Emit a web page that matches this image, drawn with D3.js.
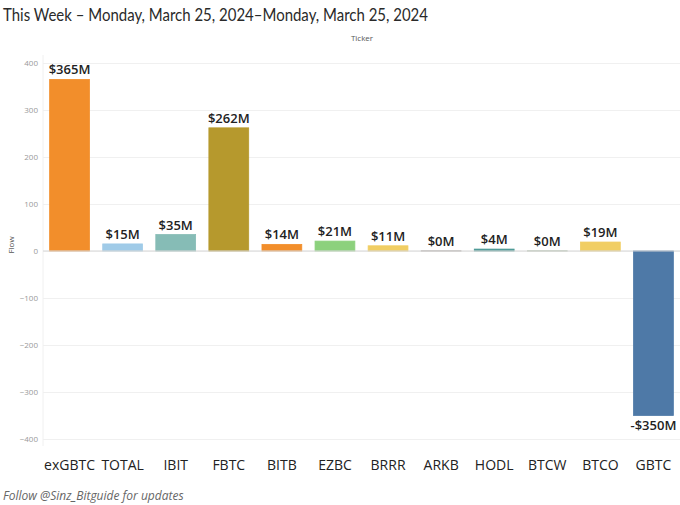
<!DOCTYPE html>
<html><head><meta charset="utf-8">
<script src="https://cdn.jsdelivr.net/npm/d3@7"></script>
<style>body{margin:0;background:#fff;}svg{display:block;}</style>
</head><body>
<svg id="c" width="680" height="505"></svg>
<script>
const tickers = ["exGBTC","TOTAL","IBIT","FBTC","BITB","EZBC","BRRR","ARKB","HODL","BTCW","BTCO","GBTC"];
const flows = [365, 15, 35, 262, 14, 21, 11, 0.3, 4, 0.3, 19, -350];
const valueLabels = ["$365M","$15M","$35M","$262M","$14M","$21M","$11M","$0M","$4M","$0M","$19M","-$350M"];
const colors = ["#f28e2b","#a0cbe8","#86bcb6","#b6992d","#f28e2b","#8cd17d","#f1ce63","#9d9794","#499894","#a2b59a","#f1ce63","#4e79a7"];
const yTicks = [-400,-300,-200,-100,0,100,200,300,400];

const svg = d3.select("#c");
const x = d3.scaleBand().domain(tickers).range([43, 680]).paddingInner(0.25).paddingOuter(0.125);
const y = d3.scaleLinear().domain([-415, 417]).range([446, 55]);

// title
const title = svg.append("text").attr("x",3).attr("y",21).attr("font-family","Lato, sans-serif")
  .attr("font-size",17).attr("fill","#2a2a2a").text("This Week \u2013 Monday, March 25, 2024\u2013Monday, March 25, 2024");
title.attr("textLength",425).attr("lengthAdjust","spacingAndGlyphs");
svg.append("text").attr("x",362).attr("y",41).attr("text-anchor","middle").attr("font-family","Open Sans, sans-serif")
  .attr("font-size",8).attr("fill","#555").text("Ticker");

// grid
const ga = svg.append("g").attr("transform","translate(43,0)")
  .call(d3.axisLeft(y).tickValues(yTicks).tickSize(-637).tickPadding(5).tickFormat(d3.format("d")));
ga.select(".domain").remove();
ga.selectAll(".tick line").attr("stroke","#f0f0f0");
ga.selectAll(".tick text").attr("fill","#999").attr("font-size",8).attr("font-family","Open Sans, sans-serif");
svg.append("line").attr("x1",43).attr("x2",43).attr("y1",55).attr("y2",446).attr("stroke","#f0f0f0");

// y label
svg.append("text").attr("transform","translate(14,245) rotate(-90)").attr("text-anchor","middle")
  .attr("font-family","Open Sans, sans-serif").attr("font-size",8).attr("fill","#555").text("Flow");

// bars
svg.append("g").selectAll("rect").data(tickers).join("rect")
  .attr("x", d => x(d)).attr("width", x.bandwidth())
  .attr("y", (d,i) => y(Math.max(0, flows[i])))
  .attr("height", (d,i) => Math.abs(y(flows[i]) - y(0)))
  .attr("fill", (d,i) => colors[i])
  .attr("stroke", (d,i) => colors[i]).attr("stroke-width", 0.8);

// zero line
svg.append("line").attr("x1",43).attr("x2",680).attr("y1",y(0)).attr("y2",y(0)).attr("stroke","#d8d8d8");

// value labels
svg.append("g").selectAll("text").data(tickers).join("text")
  .attr("x", d => x(d) + x.bandwidth()/2)
  .attr("y", (d,i) => flows[i] >= 0 ? y(flows[i]) - 5 : y(flows[i]) + 15)
  .attr("text-anchor","middle").attr("font-family","Open Sans, sans-serif")
  .attr("font-size",13).attr("font-weight",600).attr("fill","#222")
  .text((d,i) => valueLabels[i]);

// x axis labels
const xa = svg.append("g").attr("transform","translate(0,452)").call(d3.axisBottom(x).tickSize(0).tickPadding(8));
xa.select(".domain").remove();
xa.selectAll("text").attr("font-family","Open Sans, sans-serif").attr("font-size",14).attr("fill","#222");

// footer
svg.append("text").attr("x",3).attr("y",500).attr("font-family","Open Sans, sans-serif")
  .attr("font-size",12).attr("font-style","italic").attr("fill","#666").text("Follow @Sinz_Bitguide for updates");
</script>
</body></html>
